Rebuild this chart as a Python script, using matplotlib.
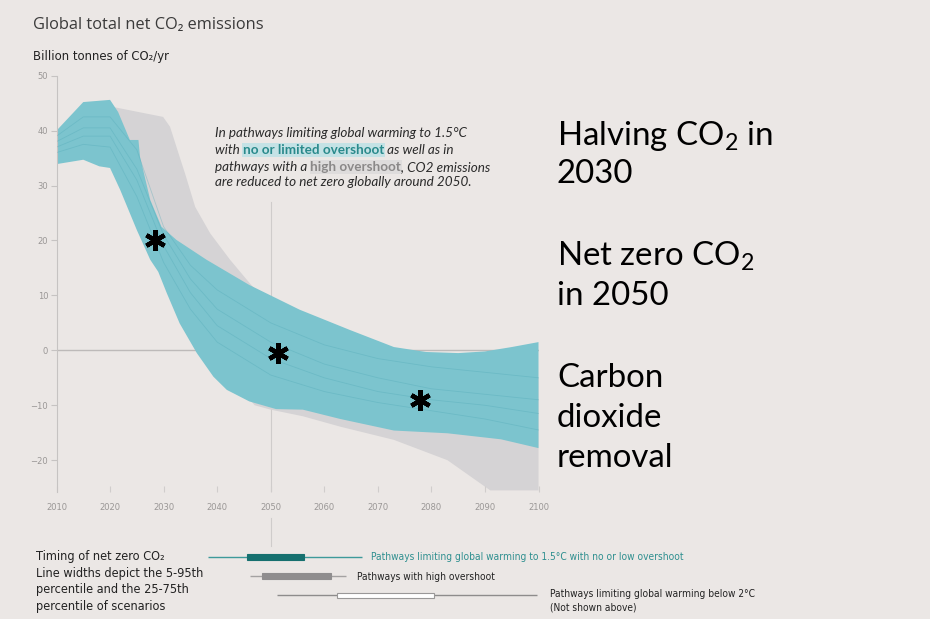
"""Global total net CO2 emissions: 1.5C pathway ranges with timing of net zero."""

import matplotlib
matplotlib.use("Agg")
import matplotlib.pyplot as plt
from matplotlib import font_manager as fm

W, H = 930, 619
BG = "#ebe7e5"
TEAL = "#7cc4ce"
TEAL_LINE = "#4fa8b6"
GREY = "#d5d3d5"

# --- emission ranges (billion t CO2/yr) -------------------------------------
teal_up_years = [2010, 2015, 2020, 2021.5, 2023.7, 2025.3, 2025.6, 2027.5, 2029.6,
                 2032.4, 2038, 2046, 2055.4, 2064.8, 2073, 2079, 2085, 2090, 2095, 2100]
teal_up_vals = [40, 45.2, 45.6, 43.4, 38.3, 38.3, 35.2, 27.4, 22.5,
                20.1, 16.5, 11.9, 7.4, 3.7, 0.6, -0.3, -0.5, -0.2, 0.6, 1.5]

teal_lo_years = [2010, 2015, 2018, 2020, 2021.9, 2025, 2027.5, 2029, 2030.6, 2033,
                 2036.2, 2039.3, 2041.8, 2046, 2051, 2056, 2063, 2073, 2083, 2093, 2100]
teal_lo_vals = [33.9, 34.7, 33.5, 33.2, 29.2, 21.9, 16.5, 14.3, 10.4, 4.9,
                -0.5, -4.8, -7.2, -9.3, -10.7, -10.8, -12.5, -14.6, -15.1, -16.2, -17.8]

grey_up_years = [2020.6, 2029.9, 2031.2, 2033, 2034, 2035.9, 2038.7, 2042.4, 2046.1,
                 2050, 2060, 2080, 2100]
grey_up_vals = [44.3, 42.5, 40.7, 35.2, 32.2, 26.1, 21.3, 16.5, 12.2,
                8, 3, -3, -5]

grey_lo_years = [2020.6, 2030, 2040, 2047, 2050, 2056, 2063, 2073, 2083, 2091, 2100]
grey_lo_vals = [34, 18, -2, -10, -10.8, -12, -13.9, -16.3, -20, -25.5, -25.5]

# a few individual scenario traces inside the teal band
path_years = [2010, 2015, 2020, 2025, 2030, 2035, 2040, 2050, 2060, 2070, 2080, 2090, 2100]
path_a = [38, 40.5, 40.5, 33, 21, 13, 7.5, 1.5, -2.5, -5, -7, -8, -9]
path_b = [36, 37.5, 37, 28, 16, 7.5, 1.5, -4.5, -7.5, -9.5, -11, -12.5, -14.5]
path_c = [39, 42.5, 42.5, 36.5, 22.5, 15.5, 11, 5, 1, -1.5, -3, -4, -5]
path_d = [37, 39, 39, 31, 19, 10.5, 4.5, -1.5, -5, -7.5, -9, -10, -11.5]

# (year, value) of the three asterisks
stars_x = [2028.4, 2051.4, 2077.8]
stars_y = [20.1, -0.5, -9.0]

y_ticks = [-20, -10, 0, 10, 20, 30, 40, 50]
x_ticks = [2010, 2020, 2030, 2040, 2050, 2060, 2070, 2080, 2090, 2100]

# --- timing of net zero (years) ---------------------------------------------
timing_labels = [
    "Pathways limiting global warming to 1.5°C with no or low overshoot",
    "Pathways with high overshoot",
    "Pathways limiting global warming below 2°C",
]
p05 = [2038.3, 2046.1, 2051.1]
p95 = [2067.1, 2064.1, 2099.8]
p25 = [2045.5, 2048.3, 2062.4]
p75 = [2056.2, 2061.2, 2080.4]


def fx(x):
    return x / W


def fy(y):
    return 1 - y / H


# pick the narrowest sans available for the condensed labels
_names = {f.name for f in fm.fontManager.ttflist}
_cond = fm.findfont(fm.FontProperties(family="DejaVu Sans", stretch="condensed"))
if "Liberation Sans Narrow" in _names:
    NARROW = dict(family=["Liberation Sans Narrow", "DejaVu Sans"])
    NSCALE = 1.0
elif "Condensed" in _cond:
    NARROW = dict(family=["DejaVu Sans"], stretch="condensed")
    NSCALE = 0.86
else:
    NARROW = dict(family=["Lato", "DejaVu Sans"])
    NSCALE = 0.92

plt.rcParams["mathtext.fontset"] = "custom"
plt.rcParams["mathtext.rm"] = "Lato"

fig = plt.figure(figsize=(W / 100, H / 100), dpi=100, facecolor=BG)
renderer = fig.canvas.get_renderer()

# main panel
ax = fig.add_axes([fx(56.5), fy(491.5), (538.5 - 56.5) / W, (491.5 - 75.7) / H])
ax.set_facecolor(BG)
ax.set_xlim(2010, 2100)
ax.set_ylim(-25.7, 50)

ax.axhline(0, color="#bdbab9", lw=1, zorder=0.5)
ax.plot([2050, 2050], [27, -25.7], color="#cfcccb", lw=0.8, zorder=0.5)

ax.fill(grey_up_years + grey_lo_years[::-1], grey_up_vals + grey_lo_vals[::-1],
        color=GREY, lw=0, zorder=1)
ax.fill(teal_up_years + teal_lo_years[::-1], teal_up_vals + teal_lo_vals[::-1],
        color=TEAL, lw=0, zorder=2)
for p in (path_a, path_b, path_c, path_d):
    ax.plot(path_years, p, color=TEAL_LINE, lw=0.6, alpha=0.35, zorder=3)

ax.plot(stars_x, stars_y, ls="none", marker=(6, 2, 0), ms=15, mew=3.2,
        color="black", zorder=5)

for s in ("top", "right", "bottom"):
    ax.spines[s].set_visible(False)
ax.spines["left"].set_color("#c6c3c2")
ax.set_yticks(y_ticks)
ax.set_xticks(x_ticks)
ax.tick_params(axis="y", length=4, color="#c6c3c2", labelcolor="#9a9796",
               labelsize=7.5 * NSCALE + 0.3, pad=2)
ax.tick_params(axis="x", direction="in", length=4, color="#d0cdcc",
               labelcolor="#9a9796", labelsize=7.5 * NSCALE + 0.3, pad=8)
for lab in ax.get_xticklabels() + ax.get_yticklabels():
    lab.set_fontproperties(fm.FontProperties(size=lab.get_fontsize(), **NARROW))

# timing panel
tax = fig.add_axes([fx(56.5), fy(614.5), (538.5 - 56.5) / W, 104.5 / H])
tax.set_xlim(2010, 2100)
tax.set_ylim(0, 104.5 / 19.1)
tax.axis("off")
tax.plot([2050, 2050], [5.05, 3.59], color="#cfcccb", lw=0.8)
rows = [3, 2, 1]
thin_c = ["#3d9a9a", "#a4a2a2", "#8e8c8c"]
bar_fc = ["#16706f", "#8f8d8e", "white"]
bar_ec = ["#16706f", "#8f8d8e", "#9a9898"]
for i in range(3):
    tax.hlines(rows[i], p05[i], p95[i], color=thin_c[i], lw=1)
    tax.barh(rows[i], p75[i] - p25[i], left=p25[i], height=0.3,
             color=bar_fc[i], edgecolor=bar_ec[i], lw=0.8, zorder=3)

lab_size = 8.5 * NSCALE
fig.text(fx(371.4), fy(557.3), timing_labels[0], color="#2e8f8f", fontsize=lab_size,
         va="center", **NARROW)
fig.text(fx(356.7), fy(576.7), timing_labels[1], color="#222222", fontsize=lab_size,
         va="center", **NARROW)
fig.text(fx(549.6), fy(594), timing_labels[2], color="#222222", fontsize=lab_size,
         va="center", **NARROW)
fig.text(fx(549.6), fy(607), "(Not shown above)", color="#222222", fontsize=lab_size,
         va="center", **NARROW)

left_lines = ["Timing of net zero CO₂", "Line widths depict the 5-95th",
              "percentile and the 25-75th", "percentile of scenarios"]
for txt, yy in zip(left_lines, [556.7, 573, 590, 606.7]):
    fig.text(fx(35.6), fy(yy), txt, color="#222222", fontsize=10.6 * NSCALE,
             va="center", **NARROW)

# titles
fig.text(fx(33), fy(25), "Global total net CO₂ emissions", color="#3a3a3a",
         fontsize=11.8, family=["Open Sans", "DejaVu Sans"], va="center")
fig.text(fx(33), fy(56.7), "Billion tonnes of CO₂/yr", color="#222222",
         fontsize=10.9 * NSCALE, va="center", **NARROW)


# italic note with highlighted runs
def measure(s, **kw):
    t = fig.text(0, 0, s + "|", **kw)
    w1 = t.get_window_extent(renderer).width
    t.set_text("|")
    w2 = t.get_window_extent(renderer).width
    t.remove()
    return w1 - w2


note_kw = dict(fontsize=9.7, family=["Lato", "DejaVu Sans"], va="center")
plain = dict(style="italic", color="#2a2a2a")
hl_teal = dict(weight="bold", color="#2a8a8c",
               bbox=dict(facecolor="#c4e2e5", edgecolor="none", pad=0.6))
hl_grey = dict(weight="bold", color="#8a8888",
               bbox=dict(facecolor="#dedcdc", edgecolor="none", pad=0.6))
note_lines = [
    [("In pathways limiting global warming to 1.5°C", plain)],
    [("with ", plain), ("no or limited overshoot", hl_teal), (" as well as in", plain)],
    [("pathways with a ", plain), ("high overshoot", hl_grey), (", CO2 emissions", plain)],
    [("are reduced to net zero globally around 2050.", plain)],
]
for runs, yy in zip(note_lines, [133.3, 150, 166.7, 182.5]):
    x = 215
    for s, kw in runs:
        style = {k: v for k, v in kw.items() if k != "bbox"}
        fig.text(fx(x), fy(yy), s, **note_kw, **kw)
        x += measure(s, **note_kw, **style)

# big right-hand statements
big_kw = dict(fontsize=23.8, family="Lato", color="black", va="baseline")
right_lines = [
    (r"Halving CO$_\mathrm{2}$ in", 145), ("2030", 183),
    (r"Net zero CO$_\mathrm{2}$", 265), ("in 2050", 305),
    ("Carbon", 387), ("dioxide", 427), ("removal", 467),
]
for txt, yy in right_lines:
    fig.text(fx(557), fy(yy), txt, **big_kw)

fig.savefig("out.png", dpi=100, facecolor=BG)
